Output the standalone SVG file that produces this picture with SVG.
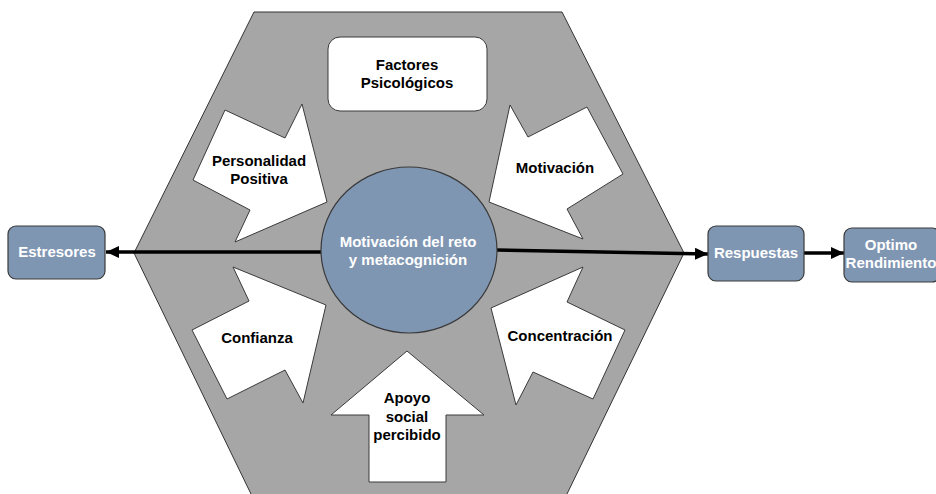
<svg xmlns="http://www.w3.org/2000/svg" width="936" height="494" viewBox="0 0 936 494">
<defs>
<marker id="ah" markerUnits="userSpaceOnUse" markerWidth="14" markerHeight="12" refX="13" refY="6" orient="auto">
<path d="M0,0 L13,6 L0,12 Z" fill="#000"/>
</marker>
<style>
.t{font-family:"Liberation Sans",Arial,sans-serif;font-weight:bold;font-size:15px;text-anchor:middle}
.w{fill:#fff}
.k{fill:#000}
.blue{fill:#7f96b2;stroke:#3a3a3a;stroke-width:1.2}
.wa{fill:#fff;stroke:#3a3a3a;stroke-width:1}
.conn{stroke:#000;stroke-width:3.5;fill:none}
</style>
</defs>
<rect width="936" height="494" fill="#fff"/>
<g id="hexagon">
<polygon points="254,12 562,12 684,253 566,496 252,496 134,253" fill="#a6a6a6" stroke="#333" stroke-width="1"/>
</g>
<g id="connectors">
<line class="conn" x1="322" y1="252" x2="106" y2="252" marker-end="url(#ah)"/>
<line class="conn" x1="496" y1="250" x2="708" y2="254" marker-end="url(#ah)"/>
<line class="conn" x1="804" y1="253" x2="844" y2="253" marker-end="url(#ah)"/>
</g>
<g id="factores">
<rect x="328" y="37" width="159" height="74" rx="12" class="wa"/>
<text class="t k" x="407" y="70">Factores</text>
<text class="t k" x="407" y="88">Psicológicos</text>
</g>
<g id="personalidad">
<polygon class="wa" points="225,110 285,138 302,104 327,202 235,242 250,210 193,180"/>
<text class="t k" x="259" y="166">Personalidad</text>
<text class="t k" x="259" y="184">Positiva</text>
</g>
<g id="motivacion">
<polygon class="wa" points="587,107 528,137 510,105 489,202 583,239 567,209 623,174"/>
<text class="t k" x="555" y="173">Motivación</text>
</g>
<g id="confianza">
<polygon class="wa" points="192,330 249,301 233,267 326,305 303,403 285,370 227,399"/>
<text class="t k" x="257" y="343">Confianza</text>
</g>
<g id="concentracion">
<polygon class="wa" points="625,330 567,302 583,267 491,308 516,405 533,372 593,399"/>
<text class="t k" x="560" y="341">Concentración</text>
</g>
<g id="apoyo">
<polygon class="wa" points="407,351 484,415 446,415 446,482 369,482 369,415 331,415"/>
<text class="t k" x="407" y="403">Apoyo</text>
<text class="t k" x="407" y="422">social</text>
<text class="t k" x="407" y="440">percibido</text>
</g>
<g id="centro">
<ellipse cx="409" cy="250" rx="88" ry="83" class="blue"/>
<text class="t w" x="408" y="247">Motivación del reto</text>
<text class="t w" x="408" y="265">y metacognición</text>
</g>
<g id="estresores">
<rect x="8" y="226" width="97" height="53" rx="8" class="blue"/>
<text class="t w" x="57" y="257">Estresores</text>
</g>
<g id="respuestas">
<rect x="708" y="226" width="96" height="55" rx="8" class="blue"/>
<text class="t w" x="756" y="258">Respuestas</text>
</g>
<g id="optimo">
<rect x="844" y="228" width="96" height="54" rx="8" class="blue"/>
<text class="t w" x="891" y="250">Optimo</text>
<text class="t w" x="891" y="268">Rendimiento</text>
</g>
</svg>
